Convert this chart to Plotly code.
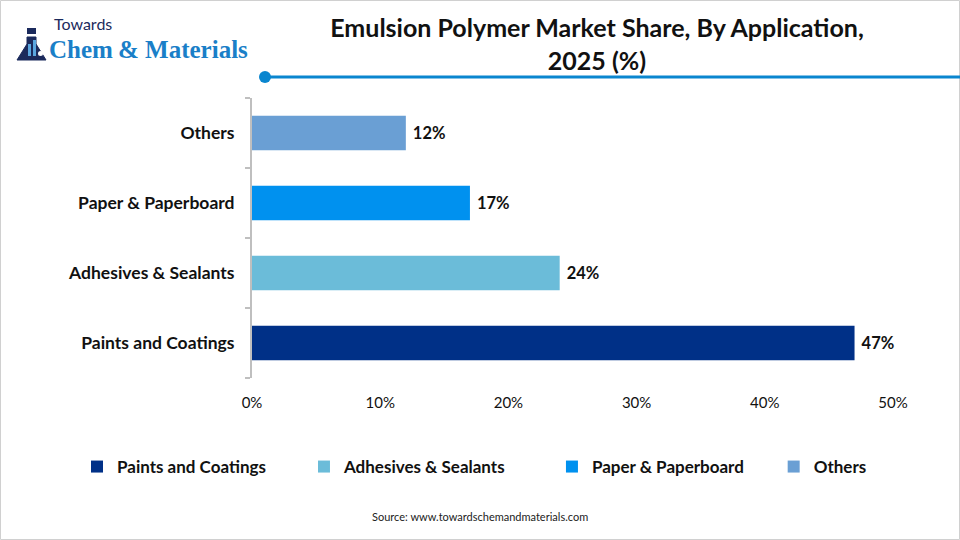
import plotly.graph_objects as go

categories = ["Paints and Coatings", "Adhesives & Sealants", "Paper & Paperboard", "Others"]
values = [47, 24, 17, 12]
colors = ["#003087", "#6bbcd9", "#0091ef", "#6a9fd4"]
legend_pad = [8, 10, 6, 0]  # trailing spacing after legend names
x_ticks = [0, 10, 20, 30, 40, 50]
x_tick_labels = ["0%", "10%", "20%", "30%", "40%", "50%"]

W, H = 960, 540
L, R, T, B = 252, 893, 98, 378
FONT = "Lato"

def px(x):
    return (x - L) / (R - L)

def py(y):
    return (B - y) / (B - T)

fig = go.Figure()
for cat, val, col, pad in zip(categories, values, colors, legend_pad):
    fig.add_trace(go.Bar(
        y=[cat], x=[val], orientation="h", name=cat + "\u00a0" * pad,
        marker=dict(color=col, line=dict(width=0)),
        text=[f"\u00a0{val}%"], textposition="outside", cliponaxis=False,
        textfont=dict(family=FONT, size=16.5, color="#111111", weight="bold"),
        width=0.49, hoverinfo="skip",
    ))

fig.update_layout(
    width=W, height=H,
    margin=dict(l=L, r=W - R, t=T, b=H - B, pad=0),
    paper_bgcolor="white", plot_bgcolor="white",
    barmode="overlay",
    showlegend=True,
    legend=dict(
        orientation="h", xref="paper", yref="paper",
        x=px(77), xanchor="left", y=py(467), yanchor="middle",
        font=dict(family=FONT, size=17, color="#111111", weight="bold"),
        traceorder="normal", itemclick=False,
    ),
    title=dict(
        text="<b>Emulsion Polymer Market Share, By Application,<br>2025 (%)</b>",
        x=597 / W, xanchor="center", xref="container", yref="container",
        y=1 - 37 / H, yanchor="top",
        font=dict(family=FONT, size=25, color="#111111"),
    ),
    xaxis=dict(
        range=[0, 50], tickvals=x_ticks, ticktext=x_tick_labels,
        showgrid=False, zeroline=False, showline=False,
        ticks="outside", ticklen=11, tickcolor="rgba(0,0,0,0)",
        tickfont=dict(family=FONT, size=15, color="#111111"),
    ),
    yaxis=dict(
        categoryorder="array", categoryarray=categories,
        showgrid=False, zeroline=False, showline=True,
        linecolor="#bfbfbf", linewidth=2,
        ticks="outside", ticklen=5, tickcolor="#bfbfbf", tickwidth=2,
        tickson="boundaries",
        tickfont=dict(family=FONT, size=17.5, color="#111111", weight="bold"),
        ticklabelstandoff=12,
    ),
)

shapes = [
    dict(type="rect", xref="paper", yref="paper",
         x0=px(0.5), x1=px(W - 0.5), y0=py(0.5), y1=py(H - 0.5),
         line=dict(color="#d0d0d0", width=1), fillcolor="rgba(0,0,0,0)"),
    dict(type="line", xref="paper", yref="paper",
         x0=px(265), x1=px(W), y0=py(77), y1=py(77),
         line=dict(color="#0a86cf", width=3)),
    dict(type="circle", xref="paper", yref="paper",
         x0=px(259), x1=px(271), y0=py(71), y1=py(83),
         line=dict(color="#0a86cf", width=0), fillcolor="#0a86cf"),
    # logo flask
    dict(type="path", xref="paper", yref="paper",
         path=(f"M {px(27)},{py(37)} L {px(36)},{py(37)} L {px(36)},{py(44)} "
               f"L {px(46)},{py(60)} L {px(17)},{py(60)} L {px(27)},{py(44)} Z"),
         line=dict(color="#1b2a5c", width=1), fillcolor="#1b2a5c"),
    dict(type="rect", xref="paper", yref="paper",
         x0=px(27), x1=px(36), y0=py(28), y1=py(34),
         line=dict(color="#1b2a5c", width=0), fillcolor="#1b2a5c"),
    dict(type="rect", xref="paper", yref="paper",
         x0=px(28), x1=px(31), y0=py(44), y1=py(56),
         line=dict(width=0), fillcolor="#5aa7e0"),
    dict(type="rect", xref="paper", yref="paper",
         x0=px(33), x1=px(36), y0=py(40), y1=py(56),
         line=dict(width=0), fillcolor="#5aa7e0"),
    dict(type="circle", xref="paper", yref="paper",
         x0=px(38), x1=px(43), y0=py(51), y1=py(56),
         line=dict(width=0), fillcolor="#ffffff"),
]
fig.update_layout(shapes=shapes)

annotations = [
    dict(text="Towards", x=px(52), y=py(23), xref="paper", yref="paper",
         xanchor="left", yanchor="middle", showarrow=False,
         font=dict(family=FONT, size=16, color="#1b2a5c")),
    dict(text="<b>Chem</b>", x=px(47), y=py(50), xref="paper", yref="paper",
         xanchor="left", yanchor="middle", showarrow=False,
         font=dict(family="Liberation Serif", size=25, color="#1a7fc8")),
    dict(text="<b>&amp; Materials</b>", x=px(116), y=py(50), xref="paper", yref="paper",
         xanchor="left", yanchor="middle", showarrow=False,
         font=dict(family="Liberation Serif", size=25, color="#1a7fc8")),
    dict(text="Source: www.towardschemandmaterials.com", x=px(480), y=py(516),
         xref="paper", yref="paper", xanchor="center", yanchor="middle",
         showarrow=False, font=dict(family=FONT, size=11, color="#222222")),
]
fig.update_layout(annotations=annotations)

fig.write_html("out.html")
